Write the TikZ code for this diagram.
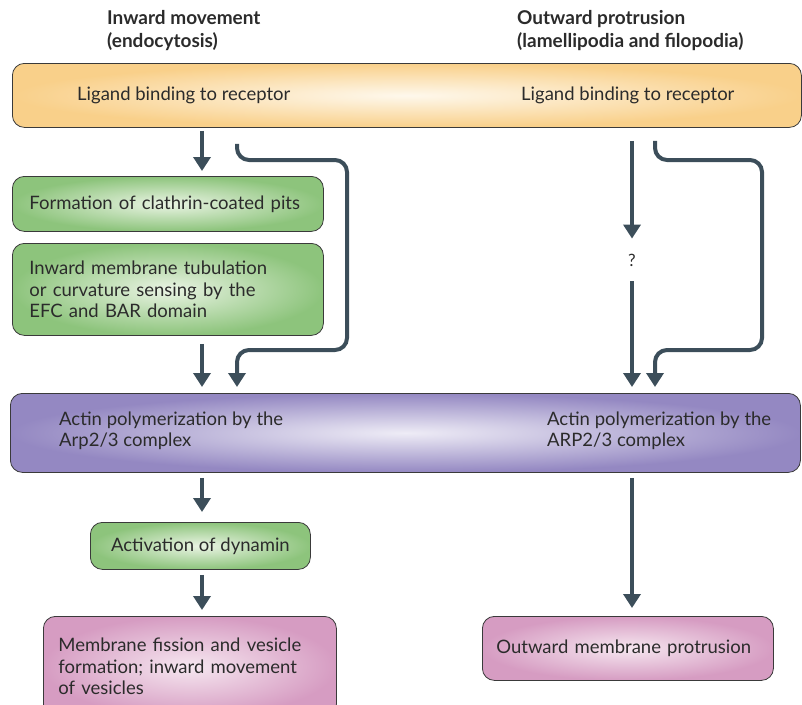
\documentclass[tikz,border=0pt]{standalone}
\usepackage{fontspec}
\setmainfont{Lato}
\usetikzlibrary{arrows.meta}

\definecolor{edgegray}{HTML}{3A3A3A}
\definecolor{textgray}{HTML}{2B2B2B}
\definecolor{arrowgray}{HTML}{3C4E5A}
\definecolor{orangeout}{HTML}{F9D08A}
\definecolor{orangein}{HTML}{FEF8EC}
\definecolor{greenout}{HTML}{8DC47C}
\definecolor{greenin}{HTML}{EAF4E4}
\definecolor{purpleout}{HTML}{9488C2}
\definecolor{purplein}{HTML}{EEECF6}
\definecolor{pinkout}{HTML}{D69CC2}
\definecolor{pinkin}{HTML}{F6E7F0}

\begin{document}
\begin{tikzpicture}[x=1pt,y=-1pt,
  box/.style={draw=edgegray, line width=0.8pt, rounded corners=12pt, anchor=north west,
    inner sep=0pt, align=left, text=textgray, font=\fontsize{18.5}{21.5}\selectfont},
  orangebox/.style={box, inner color=orangein, outer color=orangeout},
  greenbox/.style={box, inner color=greenin, outer color=greenout},
  purplebox/.style={box, inner color=purplein, outer color=purpleout},
  pinkbox/.style={box, inner color=pinkin, outer color=pinkout},
  lbl/.style={anchor=west, align=left, inner sep=0pt, text=textgray, font=\fontsize{18.5}{21}\selectfont},
  head/.style={anchor=west, align=left, inner sep=0pt, text=textgray, font=\bfseries\fontsize{19}{23}\selectfont},
  flow/.style={draw=arrowgray, line width=4pt, -{Triangle[length=14pt,width=17pt]}}]

  \useasboundingbox (0,0) rectangle (802,704);

  % column titles
  \node[head] (inward) at (107,31) {Inward movement\\(endocytosis)};
  \node[head] (outward) at (517,31) {Outward protrusion\\(lamellipodia and filopodia)};

  % boxes
  \node[orangebox, minimum width=789pt, minimum height=64pt] (lig) at (12,63) {};
  \node[lbl] (ligL) at (77,95) {Ligand binding to receptor};
  \node[lbl] (ligR) at (521,95) {Ligand binding to receptor};

  \node[greenbox, minimum width=311pt, minimum height=55pt, text width=277pt, inner xsep=17pt] (pits) at (12,176)
    {Formation of clathrin-coated pits};
  \node[greenbox, minimum width=311pt, minimum height=92pt, text width=277pt, inner xsep=17pt] (tub) at (12,243)
    {Inward membrane tubulation\\or curvature sensing by the\\EFC and BAR domain};

  \node[inner sep=0pt, text=textgray, font=\fontsize{17}{17}\selectfont] (q) at (632,260) {?};

  \node[purplebox, minimum width=790pt, minimum height=79pt] (act) at (10,393) {};
  \node[lbl] (actL) at (59,431) {Actin polymerization by the\\Arp2/3 complex};
  \node[lbl] (actR) at (547,431) {Actin polymerization by the\\ARP2/3 complex};

  \node[greenbox, minimum width=220pt, minimum height=47pt, align=center] (dyn) at (90,522)
    {Activation of dynamin};
  \node[pinkbox, minimum width=293pt, minimum height=100pt, text width=263pt, inner xsep=15pt] (fis) at (43,616)
    {Membrane fission and vesicle\\formation; inward movement\\of vesicles};
  \node[pinkbox, minimum width=291pt, minimum height=64pt, text width=263pt, inner xsep=14pt] (prot) at (482,616)
    {Outward membrane protrusion\\[-4pt]};

  % columns of the arrows
  \coordinate (lcol) at (202,0);
  \coordinate (rcol) at (632,0);
  \coordinate (lloop) at (237,0);
  \coordinate (rloop) at (655,0);

  % inward side
  \draw[flow, shorten <=3pt, shorten >=5pt] (lig.south -| lcol) -- (pits.north -| lcol);
  \draw[flow, shorten <=8pt, shorten >=6pt] (tub.south -| lcol) -- (act.north -| lcol);
  \draw[flow, rounded corners=12pt, shorten <=16pt, shorten >=6pt]
    (lig.south -| lloop) -- (237,160) -- (347,160) -- (347,350) -- (237,350) -- (act.north -| lloop);

  % outward side
  \draw[flow, shorten <=13pt, shorten >=15pt] (lig.south -| rcol) -- (q.north);
  \draw[flow, shorten <=15pt, shorten >=6pt] (q.south) -- (act.north -| rcol);
  \draw[flow, rounded corners=12pt, shorten <=13pt, shorten >=6pt]
    (lig.south -| rloop) -- (655,160) -- (762,160) -- (762,350) -- (655,350) -- (act.north -| rloop);

  % below the actin box
  \draw[flow, shorten <=5pt, shorten >=10pt] (act.south -| lcol) -- (dyn.north -| lcol);
  \draw[flow, shorten <=5pt, shorten >=6pt] (dyn.south -| lcol) -- (fis.north -| lcol);
  \draw[flow, shorten <=5pt, shorten >=8pt] (act.south -| rcol) -- (prot.north -| rcol);

\end{tikzpicture}
\end{document}
